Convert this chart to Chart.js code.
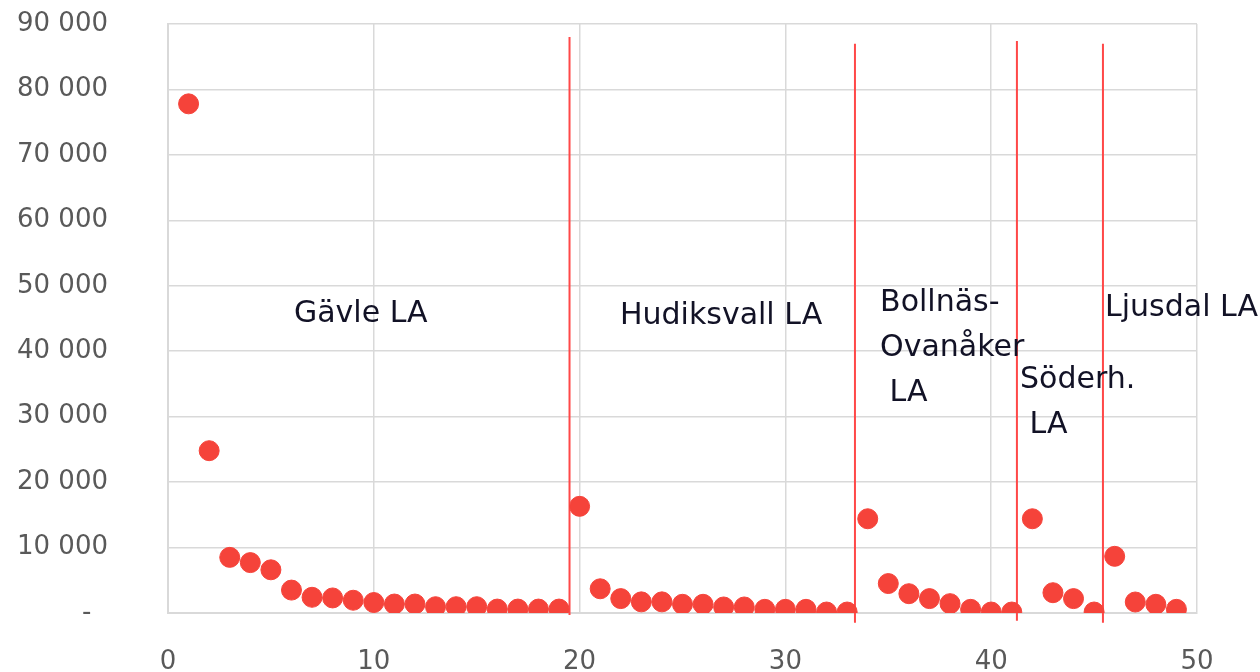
<!DOCTYPE html>
<html>
<head>
<meta charset="utf-8">
<script src="https://cdn.jsdelivr.net/npm/chart.js@4.4.1/dist/chart.umd.min.js"></script>
<style>
  html, body { margin: 0; padding: 0; background: #ffffff; }
  #wrap { width: 1260px; height: 672px; }
</style>
</head>
<body>
<div id="wrap"><canvas id="c" width="1260" height="672"></canvas></div>
<script>
// ---- data ----
const categories = [1,2,3,4,5,6,7,8,9,10,11,12,13,14,15,16,17,18,19,20,21,22,23,24,25,26,27,28,29,30,31,32,33,34,35,36,37,38,39,40,41,42,43,44,45,46,47,48,49];
const values = [77800,24800,8500,7700,6600,3500,2400,2300,1950,1600,1370,1370,960,960,960,600,600,600,600,
                16300,3700,2200,1700,1700,1330,1330,920,920,560,560,560,150,150,
                14400,4500,2950,2200,1430,560,150,150,
                14400,3100,2200,150,
                8660,1680,1330,560];
// separator lines between areas
const sepX = [19.51, 33.38, 41.25, 45.43];
const sepTop = [88000, 87000, 87400, 87000];
const sepBottom = [-300, -1500, -1200, -1500];
// area labels
const areaLabels = [["Gävle LA"], ["Hudiksvall LA"], ["Bollnäs-", "Ovanåker", " LA"], ["Söderh.", " LA"], ["Ljusdal LA"]];
const labelX = [6.12, 21.96, 34.6, 41.4, 45.53];
const labelY = [45700, 45400, 47400, 35600, 46600];
const xTicks = [0, 10, 20, 30, 40, 50];
const yTicks = [0, 10000, 20000, 30000, 40000, 50000, 60000, 70000, 80000, 90000];

const points = categories.map((c, i) => ({x: c, y: values[i]}));
const sepDatasets = sepX.map((x, i) => ({
  type: 'line',
  data: [{x: x, y: sepTop[i]}, {x: x, y: sepBottom[i]}],
  borderColor: '#ff4848',
  borderWidth: 2,
  pointRadius: 0,
  fill: false,
  clip: false,
  order: 2
}));

const labelPlugin = {
  id: 'areaLabels',
  afterDatasetsDraw(chart) {
    const ctx = chart.ctx;
    const xs = chart.scales.x, ys = chart.scales.y;
    ctx.save();
    ctx.font = '30px "DejaVu Sans", sans-serif';
    ctx.fillStyle = '#121226';
    ctx.textAlign = 'left';
    ctx.textBaseline = 'middle';
    const lh = 45;
    areaLabels.forEach((lines, i) => {
      const px = xs.getPixelForValue(labelX[i]);
      const py = ys.getPixelForValue(labelY[i]);
      lines.forEach((t, j) => ctx.fillText(t, px, py + j * lh));
    });
    ctx.restore();
  }
};

function fmt(v) {
  if (v === 0) return '-  ';
  return String(v).replace(/\B(?=(\d{3})+(?!\d))/g, ' ');
}

new Chart(document.getElementById('c'), {
  type: 'scatter',
  data: {
    datasets: [{
      data: points,
      backgroundColor: '#f5433a',
      borderColor: '#f5433a',
      pointRadius: 10,
      pointHoverRadius: 10,
      order: 1
    }].concat(sepDatasets)
  },
  options: {
    responsive: false,
    devicePixelRatio: 1,
    animation: false,
    layout: { padding: { left: 0, right: 63, top: 24, bottom: 0 } },
    plugins: { legend: { display: false }, tooltip: { enabled: false } },
    scales: {
      x: {
        type: 'linear',
        min: 0, max: 50,
        afterBuildTicks(scale) { scale.ticks = xTicks.map(v => ({value: v})); },
        afterFit(scale) { scale.height = 59; scale.paddingLeft = 0; scale.paddingRight = 0; },
        grid: { color: '#d9d9d9', lineWidth: 1.5, drawTicks: false },
        border: { color: '#d9d9d9', width: 2 },
        ticks: { color: '#595959', font: { family: '"DejaVu Sans", sans-serif', size: 26 }, padding: 34 }
      },
      y: {
        type: 'linear',
        min: 0, max: 90000,
        afterBuildTicks(scale) { scale.ticks = yTicks.map(v => ({value: v})); },
        afterFit(scale) { scale.width = 168; scale.paddingTop = 0; scale.paddingBottom = 0; },
        grid: { color: '#d9d9d9', lineWidth: 1.5, drawTicks: false },
        border: { color: '#d9d9d9', width: 2 },
        ticks: { color: '#595959', font: { family: '"DejaVu Sans", sans-serif', size: 26 }, padding: 60, callback: v => fmt(v) }
      }
    }
  },
  plugins: [labelPlugin]
});
</script>
</body>
</html>
